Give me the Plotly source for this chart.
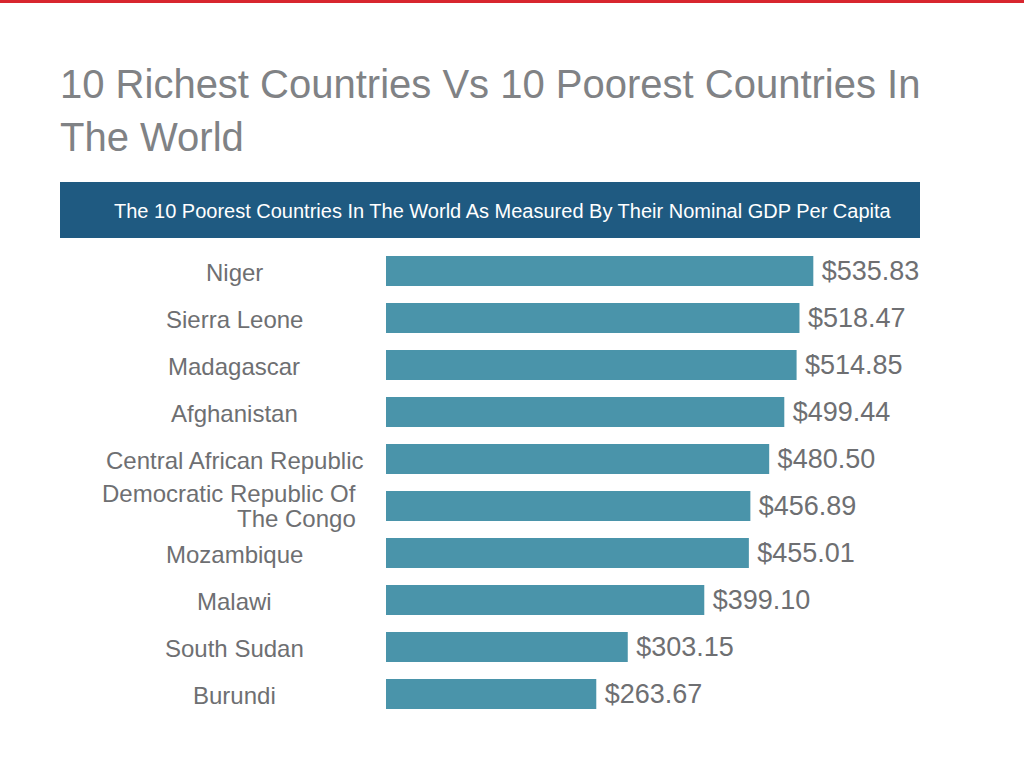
import plotly.graph_objects as go

countries = ["Niger", "Sierra Leone", "Madagascar", "Afghanistan", "Central African Republic",
             "Democratic Republic Of<br>The Congo", "Mozambique", "Malawi", "South Sudan", "Burundi"]
gdp_per_capita = [535.83, 518.47, 514.85, 499.44, 480.50, 456.89, 455.01, 399.10, 303.15, 263.67]
value_labels = [f"${v:.2f}" for v in gdp_per_capita]

title_line1 = "10 Richest Countries Vs 10 Poorest Countries In"
title_line2 = "The World"
banner_text = "The 10 Poorest Countries In The World As Measured By Their Nominal GDP Per Capita"

W, H = 1024, 778
FONT = "Liberation Sans, Arial, sans-serif"
BAR = "#4a94aa"
TXT = "#6e6f72"

def px(x):
    return x / W

def py(y):
    return 1 - y / H

fig = go.Figure()
fig.add_trace(go.Bar(
    y=list(range(len(countries))),
    x=gdp_per_capita,
    orientation="h",
    marker=dict(color=BAR, line=dict(width=0)),
    width=0.64,
    text=["\u2009" + t for t in value_labels],
    textposition="outside",
    textfont=dict(family=FONT, size=27, color=TXT),
    cliponaxis=False,
    hoverinfo="skip",
))

annotations = []
for i, c in enumerate(countries):
    lines = c.split("<br>")
    if len(lines) == 1:
        annotations.append(dict(
            x=px(234), xref="paper", y=i, yref="y", text=c, showarrow=False,
            xanchor="center", yanchor="middle", yshift=-1,
            font=dict(family=FONT, size=24, color=TXT),
        ))
    else:
        n = len(lines)
        for k, ln in enumerate(lines):
            annotations.append(dict(
                x=px(358), xref="paper", y=i, yref="y", text=ln, showarrow=False,
                xanchor="right", yanchor="middle",
                yshift=((n - 1) / 2 - k) * 25,
                font=dict(family=FONT, size=24, color=TXT),
            ))

annotations.append(dict(x=px(58), xref="paper", y=py(84), yref="paper", text=title_line1,
                        showarrow=False, xanchor="left", yanchor="middle",
                        font=dict(family=FONT, size=40, color="#808285")))
annotations.append(dict(x=px(58), xref="paper", y=py(137), yref="paper", text=title_line2,
                        showarrow=False, xanchor="left", yanchor="middle",
                        font=dict(family=FONT, size=40, color="#808285")))
annotations.append(dict(x=px(503), xref="paper", y=py(211), yref="paper", text=banner_text,
                        showarrow=False, xanchor="center", yanchor="middle",
                        font=dict(family=FONT, size=20, color="#ffffff")))

shapes = [
    dict(type="rect", xref="paper", yref="paper", x0=0, x1=1, y0=py(3), y1=1,
         fillcolor="#d8262f", line=dict(width=0), layer="above"),
    dict(type="rect", xref="paper", yref="paper", x0=px(60), x1=px(920), y0=py(238), y1=py(182),
         fillcolor="#1f5a81", line=dict(width=0)),
]

fig.update_layout(
    width=W, height=H,
    margin=dict(l=0, r=0, t=0, b=0),
    paper_bgcolor="white", plot_bgcolor="white",
    showlegend=False,
    xaxis=dict(domain=[px(386), 1.0], range=[0, 800], visible=False, fixedrange=True),
    yaxis=dict(domain=[py(717.5), py(247.5)], range=[9.5, -0.5], visible=False, fixedrange=True),
    annotations=annotations,
    shapes=shapes,
)

fig.write_html("out.html", config={"displayModeBar": False},
               post_script="document.body.style.margin='0';document.body.style.overflow='hidden';")
